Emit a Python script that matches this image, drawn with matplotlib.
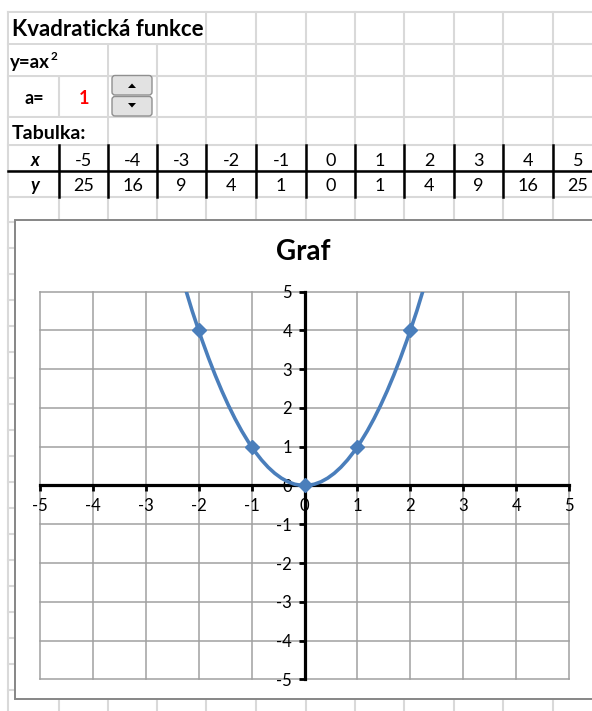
import matplotlib
matplotlib.use("Agg")
import matplotlib.pyplot as plt
from matplotlib.patches import Rectangle, FancyBboxPatch, Polygon, PathPatch
from matplotlib.path import Path

plt.rcParams["font.family"] = ["Lato", "DejaVu Sans"]
plt.rcParams["axes.unicode_minus"] = False

# hodnoty tabulky y = a*x^2
a = 1
x_vals = [-5, -4, -3, -2, -1, 0, 1, 2, 3, 4, 5]
y_vals = [25, 16, 9, 4, 1, 0, 1, 4, 9, 16, 25]
axis_ticks = [-5, -4, -3, -2, -1, 0, 1, 2, 3, 4, 5]

W, H = 592, 711
fig = plt.figure(figsize=(W / 100, H / 100), dpi=100)

# list sesitu v pixelovych souradnicich
sheet = fig.add_axes([0, 0, 1, 1])
sheet.set_xlim(0, W)
sheet.set_ylim(H, 0)
sheet.axis("off")

grid_c = "#d9d9d9"
col_edges = [8, 59, 108, 157, 206, 256, 306, 355, 404, 454, 503, 553, 603]
row_edges = [12, 44, 76, 117, 145, 171, 196.5]
row_h = 25.95

for xe in col_edges:
    sheet.plot([xe, xe], [12, H], color=grid_c, lw=1.5, zorder=1)
y = row_edges[-1]
extra_rows = []
while y < H:
    extra_rows.append(y)
    y += row_h
for ye in row_edges[:-1] + extra_rows:
    sheet.plot([8, W], [ye, ye], color=grid_c, lw=1.5, zorder=1)

# text preteka do sousednich bunek
for (x0, x1, y0, y1) in [(9, 205, 13, 43), (9, 107, 45, 75), (9, 107, 118, 144)]:
    sheet.add_patch(Rectangle((x0, y0), x1 - x0, y1 - y0, fc="white", ec="none", zorder=1.5))

# ohraniceni tabulky
for xe in col_edges[1:]:
    sheet.plot([xe, xe], [145, 196.5], color="black", lw=1.8, zorder=2)
sheet.plot([8, W], [171, 171], color="black", lw=1.8, zorder=2)

sheet.text(12, 36, "Kvadratická funkce", fontsize=16, fontweight="bold", va="baseline", zorder=2)
sheet.text(10, 68, "y=ax", fontsize=13.5, fontweight="bold", va="baseline", zorder=2)
sheet.text(50.5, 60, "2", fontsize=8.5, fontweight="bold", va="baseline", zorder=2)
sheet.text(34, 104, "a=", fontsize=13, fontweight="bold", ha="center", va="baseline", zorder=2)
sheet.text(84, 104.5, str(a), fontsize=13, fontweight="bold", color="#ff0000",
           ha="center", va="baseline", zorder=2)
sheet.text(12, 139, "Tabulka:", fontsize=14, fontweight="bold", va="baseline", zorder=2)

centers = [(col_edges[i] + col_edges[i + 1]) / 2 for i in range(len(col_edges) - 1)]
sheet.text(35, 165.5, "x", fontsize=13, fontweight="bold", fontstyle="italic",
           ha="center", va="baseline", zorder=2)
sheet.text(35, 191, "y", fontsize=13, fontweight="bold", fontstyle="italic",
           ha="center", va="baseline", zorder=2)
for cx, xv, yv in zip(centers[1:], x_vals, y_vals):
    sheet.text(cx, 165.5, str(xv), fontsize=13, ha="center", va="baseline", zorder=2)
    sheet.text(cx, 191, str(yv), fontsize=13, ha="center", va="baseline", zorder=2)

# ovladaci prvek (spinner)
for (by, tri) in [(75.5, [(128, 88), (136, 88), (132, 83.5)]),
                  (96.5, [(128, 103), (136, 103), (132, 107.5)])]:
    sheet.add_patch(FancyBboxPatch((112, by), 40, 19.5, boxstyle="round,pad=0,rounding_size=3",
                                   fc="#e2e2e2", ec="#8f8f8f", lw=1.0, zorder=3))
    sheet.add_patch(Polygon(tri, closed=True, fc="black", ec="none", zorder=4))

# oblast grafu
sheet.add_patch(Rectangle((14.5, 219.5), 600, 479.5, fc="white", ec="#868686", lw=1.4, zorder=3))

x0px, x1px, ytop, ybot = 40, 569, 291.7, 679.3
ax = fig.add_axes([x0px / W, 1 - ybot / H, (x1px - x0px) / W, (ybot - ytop) / H])
ax.set_xlim(-5, 5)
ax.set_ylim(-5, 5)
ax.patch.set_visible(False)

for v in axis_ticks:
    ax.axvline(v, color="#a0a0a0", lw=1.1, zorder=0.5, clip_on=False)
    ax.axhline(v, color="#a0a0a0", lw=1.1, zorder=0.5, clip_on=False)

for side in ["top", "right"]:
    ax.spines[side].set_visible(False)
for side in ["left", "bottom"]:
    ax.spines[side].set_position(("data", 0))
    ax.spines[side].set_color("black")
    ax.spines[side].set_linewidth(2.3)

ax.set_xticks(axis_ticks)
ax.set_yticks(axis_ticks)
ax.set_xticklabels([str(v) for v in axis_ticks])
ax.set_yticklabels([str(v) for v in axis_ticks])
ax.tick_params(direction="out", length=4, width=2, color="black", labelsize=12, pad=5)

fig.text(303 / W, 1 - 252 / H, "Graf", fontsize=20, fontweight="bold", ha="center", va="center")

# vyhlazena cara (Bezierovy krivky pres body tabulky)
blue = "#4a7ebb"
pts = list(zip(x_vals, y_vals))
verts = [pts[0]]
codes = [Path.MOVETO]
for i in range(len(pts) - 1):
    p0 = pts[max(i - 1, 0)]
    p1 = pts[i]
    p2 = pts[i + 1]
    p3 = pts[min(i + 2, len(pts) - 1)]
    c1 = (p1[0] + (p2[0] - p0[0]) / 6, p1[1] + (p2[1] - p0[1]) / 6)
    c2 = (p2[0] - (p3[0] - p1[0]) / 6, p2[1] - (p3[1] - p1[1]) / 6)
    verts += [c1, c2, p2]
    codes += [Path.CURVE4] * 3
ax.add_patch(PathPatch(Path(verts, codes), fc="none", ec=blue, lw=2.6, zorder=4))
ax.plot(x_vals, y_vals, "D", ms=7.5, color=blue, zorder=5)

fig.savefig("out.png", dpi=100)
